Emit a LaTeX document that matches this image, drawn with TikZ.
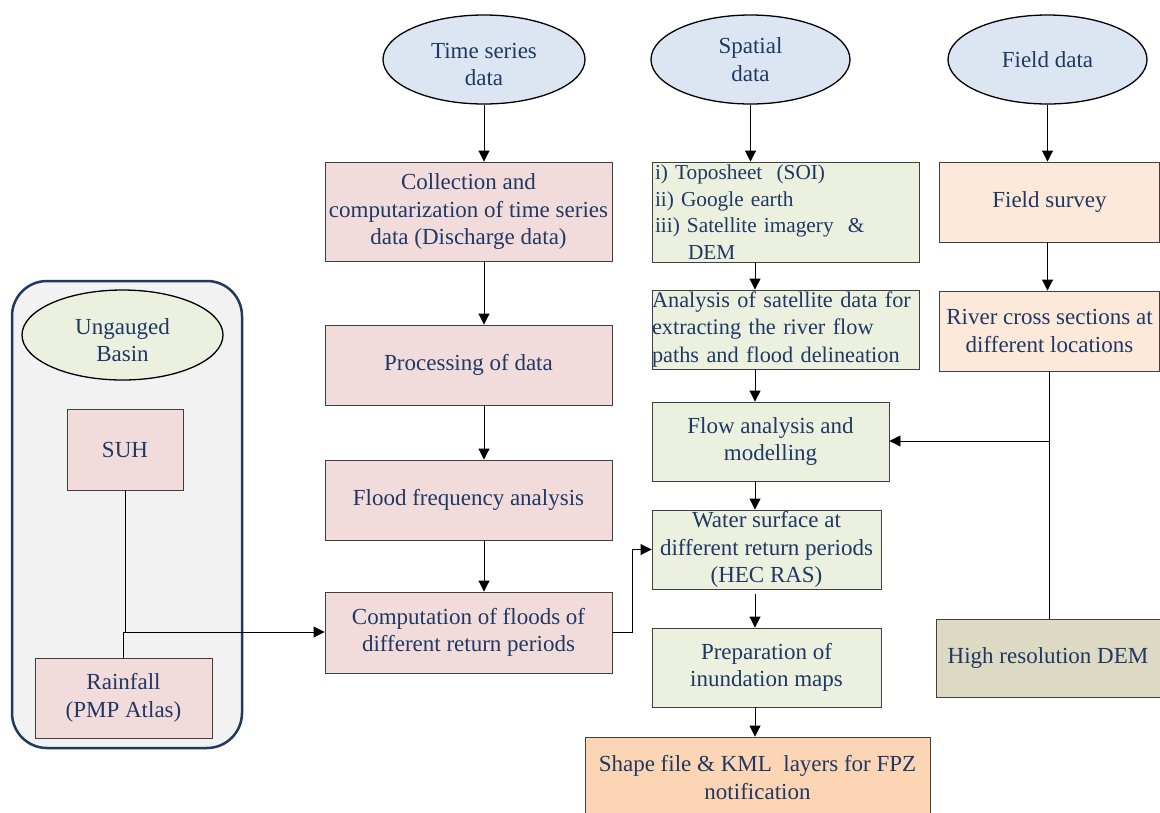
\documentclass[tikz,border=0pt]{standalone}
\usepackage{fontspec}
\setmainfont{Liberation Serif}
\usetikzlibrary{arrows.meta,shapes.geometric}
\definecolor{txt}{HTML}{1F3864}
\definecolor{pinkf}{HTML}{F2DCDB}
\definecolor{greenf}{HTML}{EBF1DE}
\definecolor{bluef}{HTML}{DCE6F2}
\definecolor{orangef}{HTML}{FDE9D9}
\definecolor{orangeg}{HTML}{FCD5B4}
\definecolor{tanf}{HTML}{DDD9C3}
\definecolor{panelf}{HTML}{F2F2F2}
\definecolor{paneld}{HTML}{1F3A5A}
\begin{document}
\begin{tikzpicture}[x=1pt,y=-1pt,
  every node/.style={font=\fontsize{23}{27.5}\selectfont, text=txt},
  box/.style={draw=black!75, line width=0.9pt, inner sep=0pt, align=center},
  ell/.style={ellipse, draw=black, line width=1.3pt, fill=bluef, inner sep=0pt, align=center},
  arr/.style={-{Triangle[length=11pt,width=11pt]}, line width=0.9pt},
  ln/.style={line width=0.9pt}]
\useasboundingbox (0,0) rectangle (1160,812);
\fill[white] (0,0) rectangle (1160,812);

% left panel
\node[draw=paneld, line width=2.5pt, rounded corners=35pt, fill=panelf, minimum width=230pt, minimum height=467pt, inner sep=0pt] (panel) at (127,514.5) {};
\node[ell, fill=greenf, minimum width=201pt, minimum height=90pt] (ung) at (122.5,335) {};
\node[align=center] (ungt) at ([yshift=-5pt]ung.center) {Ungauged\\Basin};
\node[box, fill=pinkf, minimum width=116pt, minimum height=81pt] (suh) at (125,449.5) {SUH};
\node[box, fill=pinkf, minimum width=177pt, minimum height=80pt] (rain) at (123.5,698) {Rainfall\\(PMP Atlas)};

% time series column
\node[ell, minimum width=202pt, minimum height=89pt] (ts) at (484,59.5) {};
\node[align=center] (tst) at ([yshift=-5pt]ts.center) {Time series\\data};
\node[box, fill=pinkf, minimum width=287pt, minimum height=99pt] (coll) at (468.5,211.5) {Collection and\\computarization of time series\\data (Discharge data)};
\node[box, fill=pinkf, minimum width=287pt, minimum height=80pt] (proc) at (468.5,365) {Processing of data};
\node[box, fill=pinkf, minimum width=287pt, minimum height=80pt] (ffa) at (468.5,500) {Flood frequency analysis};
\node[box, fill=pinkf, minimum width=287pt, minimum height=81pt] (comp) at (468.5,632.5) {Computation of floods of\\different return periods};

% spatial column
\node[ell, minimum width=199pt, minimum height=89pt] (sp) at (750.5,59.5) {Spatial\\data};
\node[box, fill=greenf, minimum width=267pt, minimum height=100pt, text width=262pt, align=left, font=\fontsize{21.3}{26.5}\selectfont] (topo) at (786,212) {i) Toposheet \ (SOI)\\ii) Google earth\\iii) Satellite imagery \ \&\\\hspace*{33pt}DEM};
\node[box, fill=greenf, minimum width=267pt, minimum height=79pt, text width=267pt, align=left, font=\fontsize{22.3}{27.5}\selectfont] (anal) at (785.5,329.5) {Analysis of satellite data for\\extracting the river flow\\paths and flood delineation};
\node[box, fill=greenf, minimum width=237pt, minimum height=79pt] (flow) at (770.5,441.5) {Flow analysis and\\modelling};
\node[box, fill=greenf, minimum width=229pt, minimum height=79pt] (water) at (766.5,549.5) {Water surface at\\different return periods\\(HEC RAS)};
\node[box, fill=greenf, minimum width=229pt, minimum height=79pt] (prep) at (766.5,667.5) {Preparation of\\inundation maps};
\node[box, fill=orangeg, minimum width=345pt, minimum height=81pt] (shape) at (757.5,777.5) {Shape file \& KML \ layers for FPZ\\notification};

% field column
\node[ell, minimum width=199pt, minimum height=89pt] (fd) at (1047.5,59.5) {Field data};
\node[box, fill=orangef, minimum width=220pt, minimum height=80pt] (surv) at (1049.5,202) {Field survey};
\node[box, fill=orangef, minimum width=220pt, minimum height=80pt] (river) at (1049.5,331) {River cross sections at\\different locations};
\node[box, fill=tanf, minimum width=224pt, minimum height=78pt] (dem) at (1048,658) {High resolution DEM};

% connectors: time series
\draw[arr] (ts.south) -- (ts.south |- coll.north);
\draw[arr] (ts.south |- coll.south) -- (ts.south |- proc.north);
\draw[arr] (ts.south |- proc.south) -- (ts.south |- ffa.north);
\draw[arr] (ts.south |- ffa.south) -- (ts.south |- comp.north);

% connectors: spatial
\coordinate (gx) at (755,0);
\draw[arr] (sp.south) -- (sp.south |- topo.north);
\draw[arr] (topo.south -| gx) -- (anal.north -| gx);
\draw[arr] (anal.south -| gx) -- (flow.north -| gx);
\draw[arr] (flow.south -| gx) -- (water.north -| gx);
\draw[arr] ([yshift=-5pt]water.south -| gx) -- (prep.north -| gx);
\draw[arr] (prep.south -| gx) -- (shape.north -| gx);

% connectors: field
\draw[arr] (fd.south) -- (fd.south |- surv.north);
\draw[arr] (fd.south |- surv.south) -- (fd.south |- river.north);
\draw[ln] (river.south) -- (river.south |- dem.north);
\coordinate (j) at (1049.5,441);
\draw[arr] (j) -- (j -| flow.east);

% computation -> water surface
\draw[arr] (comp.east) -- ++(20,0) |- (water.west);

% left panel connectors
\coordinate (k) at (124,632);
\draw[ln] (suh.south) -- (suh.south |- k);
\draw[ln] (rain.north) -- (rain.north |- k);
\draw[arr] (k) -- (k -| comp.west);
\end{tikzpicture}
\end{document}
